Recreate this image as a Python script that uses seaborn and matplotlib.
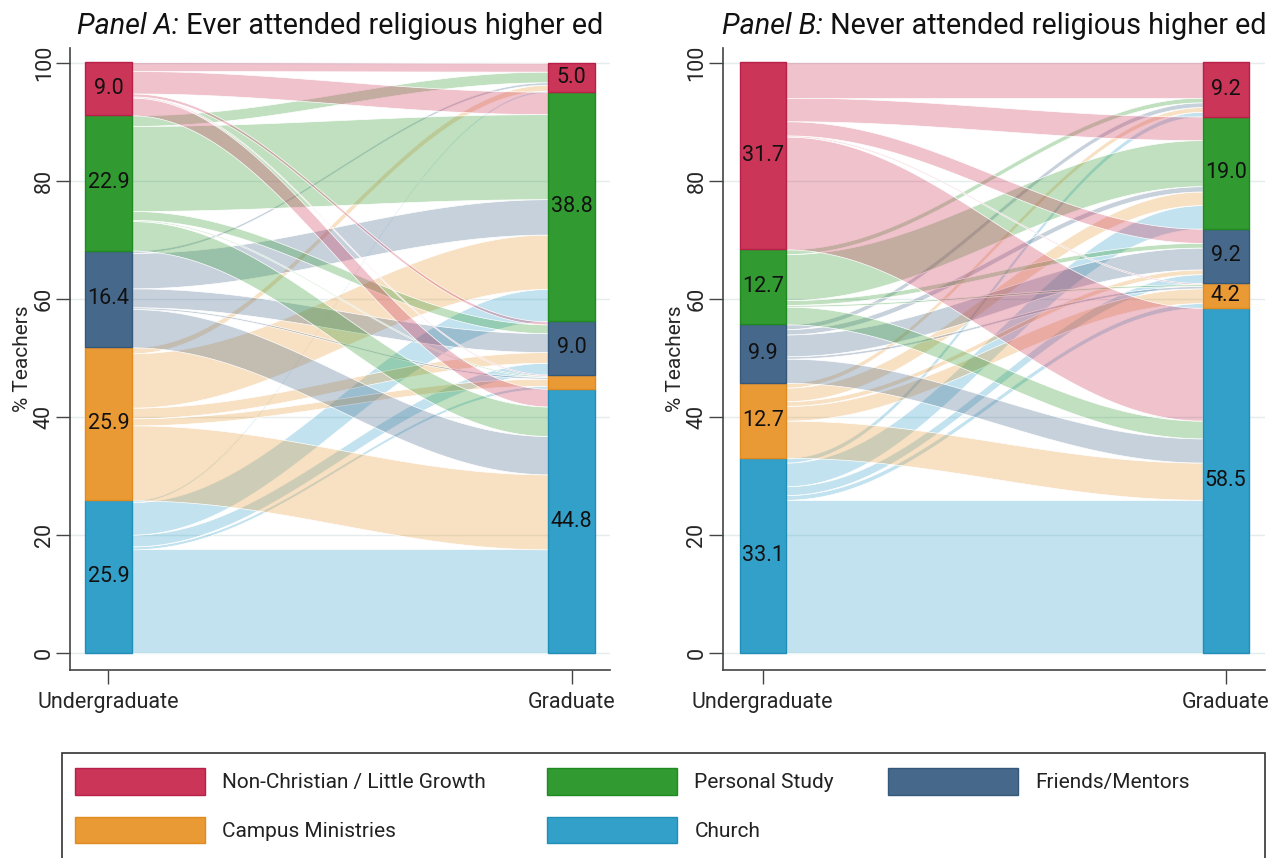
import numpy as np
import matplotlib
matplotlib.use("Agg")
import matplotlib.pyplot as plt
import seaborn as sns
from matplotlib.colors import to_rgba
from matplotlib.patches import Patch, Rectangle

# categories stacked bottom -> top
categories = ["Church", "Campus Ministries", "Friends/Mentors", "Personal Study",
              "Non-Christian / Little Growth"]
colors = ["#33a0c9", "#ea9a35", "#46698b", "#319a31", "#cb3558"]
edge_colors = ["#1f8fb8", "#e08a20", "#34587a", "#1f8a1f", "#b8204a"]

# node shares (%), bottom -> top
a_undergrad = [25.9, 25.9, 16.4, 22.9, 9.0]
a_grad = [44.8, 2.4, 9.0, 38.8, 5.0]
b_undergrad = [33.1, 12.7, 9.9, 12.7, 31.7]
b_grad = [58.5, 4.2, 9.2, 19.0, 9.2]

# flows: rows = undergraduate source, cols = graduate destination
a_flows = [
    [17.6, 0.5, 2.0, 5.5, 0.3],
    [12.7, 1.2, 1.8, 9.2, 1.0],
    [6.5, 0.3, 3.2, 6.0, 0.4],
    [5.0, 0.2, 1.5, 14.4, 1.8],
    [3.0, 0.2, 0.5, 3.8, 1.5],
]
b_flows = [
    [26.0, 0.8, 1.5, 4.0, 0.8],
    [6.3, 2.5, 0.8, 2.3, 0.8],
    [4.1, 0.4, 3.7, 0.9, 0.8],
    [3.0, 0.3, 0.8, 7.8, 0.8],
    [19.1, 0.2, 2.4, 4.0, 6.0],
]

stages = ["Undergraduate", "Graduate"]
title_heads = ["Panel A:", "Panel B:"]
title_tails = [" Ever attended religious higher ed", " Never attended religious higher ed"]

sns.set_style("ticks")
plt.rcParams["font.family"] = ["Roboto", "DejaVu Sans"]

W, H = 1278, 858
fig = plt.figure(figsize=(W / 100, H / 100), dpi=100)
renderer = fig.canvas.get_renderer()


def draw_panel(ax, src, dst, flows, head, tail, xlim):
    flows = np.array(flows)
    src = np.array(src)
    dst = np.array(dst)
    src_bottom = np.concatenate([[0], np.cumsum(src)[:-1]])
    dst_bottom = np.concatenate([[0], np.cumsum(dst)[:-1]])
    s_off = src_bottom.copy()
    d_off = dst_bottom.copy()
    bw = 0.1
    t = np.linspace(0, 1, 200)
    s = (1 - np.cos(np.pi * t)) / 2
    xs = bw / 2 + (1 - bw) * t
    for i in range(len(src)):
        for j in range(len(dst)):
            w = flows[i, j]
            if w <= 0:
                continue
            lower = s_off[i] + (d_off[j] - s_off[i]) * s
            ax.fill_between(xs, lower, lower + w, facecolor=to_rgba(colors[i], 0.3),
                            edgecolor="white", linewidth=0.5, zorder=2)
            s_off[i] += w
            d_off[j] += w

    for x, vals, bottoms in [(0, src, src_bottom), (1, dst, dst_bottom)]:
        ax.bar([x] * len(vals), vals, bottom=bottoms, width=bw, color=colors,
               edgecolor=edge_colors, linewidth=1, zorder=3)
        for v, b in zip(vals, bottoms):
            if v >= 3:
                ax.text(x, b + v / 2, f"{v:.1f}", ha="center", va="center",
                        fontsize=15.5, color="#111111", zorder=4)

    ax.set_xlim(*xlim)
    ax.set_ylim(-2.83, 102.5)
    ax.set_xticks([0, 1])
    ax.set_xticklabels(stages, fontsize=15.5)
    ax.set_yticks(range(0, 101, 20))
    ax.set_yticklabels([str(v) for v in range(0, 101, 20)], rotation=90,
                       va="center", fontsize=15.5)
    ax.tick_params(axis="both", length=10, width=1, color="#444444")
    ax.tick_params(axis="y", pad=1)
    ax.tick_params(axis="x", pad=6)
    ax.yaxis.grid(True, color="#e4ecee", linewidth=1, zorder=0)
    ax.set_axisbelow(True)
    sns.despine(ax=ax)
    for sp in ["left", "bottom"]:
        ax.spines[sp].set_color("#444444")
        ax.spines[sp].set_linewidth(1.2)
    ax.set_ylabel("% Teachers", fontsize=15, labelpad=1)

    # title: italic head + regular tail, centred over the axes
    bbox = ax.get_position()
    cx = (bbox.x0 + bbox.x1) / 2
    ty = 1 - 26 / H
    t1 = fig.text(0, ty, head, fontsize=20.7, style="italic", va="center", color="#111111")
    t2 = fig.text(0, ty, tail, fontsize=20.7, va="center", color="#111111")
    w1 = t1.get_window_extent(renderer).width / W
    w2 = t2.get_window_extent(renderer).width / W
    x0 = cx - (w1 + w2) / 2
    t1.set_x(x0)
    t2.set_x(x0 + w1)


ax_a = fig.add_axes([70 / W, 1 - 670 / H, 540 / W, 622 / H])
ax_b = fig.add_axes([722.7 / W, 1 - 670 / H, 542.3 / W, 622 / H])
draw_panel(ax_a, a_undergrad, a_grad, a_flows, title_heads[0], title_tails[0], (-0.083, 1.083))
draw_panel(ax_b, b_undergrad, b_grad, b_flows, title_heads[1], title_tails[1], (-0.0864, 1.085))

# legend box
fig.patches.append(Rectangle((62 / W, -0.01), 1203 / W, (H - 753) / H + 0.01,
                             transform=fig.transFigure, fill=False,
                             edgecolor="#333333", linewidth=1.2))
legend_cols = [[4, 1], [3, 0], [2]]
col_x = [75, 547, 888]
for col, xpx in zip(legend_cols, col_x):
    handles = [Patch(facecolor=colors[k], edgecolor=edge_colors[k], label=categories[k])
               for k in col]
    leg = fig.legend(handles=handles, ncol=1, loc="upper left",
                     bbox_to_anchor=(xpx / W, 1 - 768 / H), frameon=False,
                     fontsize=15, handlelength=6.25, handleheight=1.6,
                     handletextpad=0.82, labelspacing=1.05, borderpad=0,
                     borderaxespad=0)
    for txt in leg.get_texts():
        txt.set_color("#222222")

fig.savefig("out.png", dpi=100)
